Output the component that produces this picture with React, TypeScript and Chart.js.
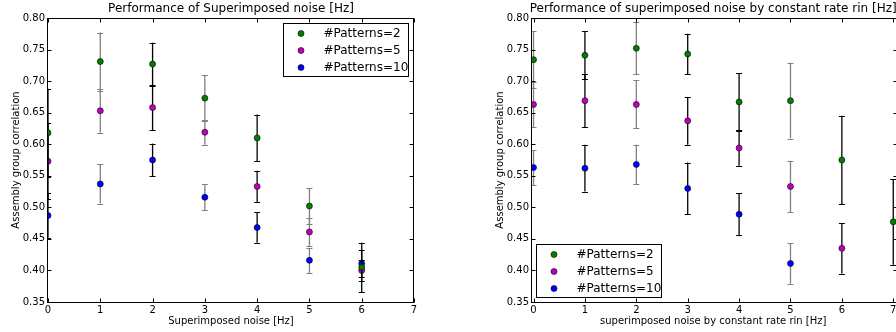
import React, { useEffect, useRef } from "react";
import { Chart, registerables } from "chart.js";

Chart.register(...registerables);

const FONT = "'DejaVu Sans', 'Liberation Sans', sans-serif";

const seriesLabels = ["#Patterns=2", "#Patterns=5", "#Patterns=10"];
const seriesColors = ["#008000", "#bf00bf", "#0000ff"];

const yTicks = [0.35, 0.4, 0.45, 0.5, 0.55, 0.6, 0.65, 0.7, 0.75, 0.8];

// Left panel: Superimposed noise [Hz]
const leftX = [0, 1, 2, 3, 4, 5, 6];
const leftXTicks = [0, 1, 2, 3, 4, 5, 6, 7];
const leftP2 = [0.618, 0.731, 0.727, 0.673, 0.61, 0.502, 0.405];
const leftP2Err = [0.07, 0.046, 0.034, 0.036, 0.037, 0.028, 0.039];
const leftP5 = [0.573, 0.653, 0.658, 0.619, 0.533, 0.461, 0.4];
const leftP5Err = [0.06, 0.035, 0.036, 0.02, 0.025, 0.022, 0.017];
const leftP10 = [0.487, 0.537, 0.575, 0.516, 0.468, 0.416, 0.411];
const leftP10Err = [0.035, 0.031, 0.026, 0.021, 0.024, 0.02, 0.021];

// Right panel: superimposed noise by constant rate rin [Hz]
const rightX = [0, 1, 2, 3, 4, 5, 6, 7];
const rightXTicks = [0, 1, 2, 3, 4, 5, 6, 7];
const rightP2 = [0.734, 0.741, 0.752, 0.743, 0.667, 0.669, 0.575, 0.477];
const rightP2Err = [0.045, 0.038, 0.041, 0.032, 0.046, 0.06, 0.07, 0.068];
const rightP5 = [0.663, 0.669, 0.663, 0.637, 0.594, 0.533, 0.435, null];
const rightP5Err = [0.036, 0.042, 0.038, 0.038, 0.028, 0.041, 0.04, null];
const rightP10 = [0.563, 0.562, 0.568, 0.53, 0.489, 0.411, null, null];
const rightP10Err = [0.028, 0.037, 0.031, 0.041, 0.033, 0.032, null, null];

const GREY = "#808080";
const BLACK = "#000000";
const leftErrShades = [BLACK, GREY, BLACK, GREY, BLACK, GREY, BLACK];
const rightErrShades = [GREY, BLACK, GREY, BLACK, BLACK, GREY, BLACK, BLACK];

const decorPlugin = {
  id: "decor",
  beforeDatasetDraw(chart: any, args: any) {
    const ds = chart.data.datasets[args.index];
    const xs: number[] = ds.xValues;
    const ys: (number | null)[] = ds.yValues;
    const errs: (number | null)[] = ds.errorBars;
    const shades: string[] = ds.errorShades;
    const xScale = chart.scales.x;
    const yScale = chart.scales.y;
    const area = chart.chartArea;
    const ctx = chart.ctx;
    ctx.save();
    ctx.beginPath();
    ctx.rect(area.left, area.top, area.right - area.left, area.bottom - area.top);
    ctx.clip();
    for (let i = 0; i < xs.length; i++) {
      const y = ys[i];
      const e = errs[i];
      if (y == null || e == null) continue;
      const px = xScale.getPixelForValue(xs[i]);
      const pt = yScale.getPixelForValue(y + e);
      const pb = yScale.getPixelForValue(y - e);
      ctx.strokeStyle = shades[i];
      ctx.lineWidth = 1.3;
      ctx.beginPath();
      ctx.moveTo(px, pt);
      ctx.lineTo(px, pb);
      ctx.stroke();
      ctx.lineWidth = 1;
      ctx.beginPath();
      ctx.moveTo(px - 3, Math.round(pt) + 0.5);
      ctx.lineTo(px + 3, Math.round(pt) + 0.5);
      ctx.moveTo(px - 3, Math.round(pb) + 0.5);
      ctx.lineTo(px + 3, Math.round(pb) + 0.5);
      ctx.stroke();
    }
    ctx.restore();
  },
  afterDraw(chart: any, _args: any, opts: any) {
    const ctx = chart.ctx;
    const area = chart.chartArea;
    const xScale = chart.scales.x;
    const yScale = chart.scales.y;
    const l = Math.round(area.left) - 0.5;
    const r = Math.round(area.right) - 0.5;
    const t = Math.round(area.top) + 0.5;
    const b = Math.round(area.bottom) + 0.5;
    ctx.save();
    ctx.strokeStyle = "#000";
    ctx.lineWidth = 1;
    ctx.strokeRect(l, t, r - l, b - t);
    // inward ticks
    ctx.beginPath();
    xScale.ticks.forEach((tk: any) => {
      const px = Math.round(xScale.getPixelForValue(tk.value)) + 0.5;
      ctx.moveTo(px, b);
      ctx.lineTo(px, b - 4);
      ctx.moveTo(px, t);
      ctx.lineTo(px, t + 4);
    });
    yScale.ticks.forEach((tk: any) => {
      const py = Math.round(yScale.getPixelForValue(tk.value)) + 0.5;
      ctx.moveTo(l, py);
      ctx.lineTo(l + 4, py);
      ctx.moveTo(r, py);
      ctx.lineTo(r - 4, py);
    });
    ctx.stroke();

    // texts
    ctx.fillStyle = "#000";
    ctx.textBaseline = "alphabetic";
    ctx.textAlign = "center";
    ctx.font = `12px ${FONT}`;
    ctx.fillText(opts.title, (area.left + area.right) / 2 + (opts.titleShift || 0), 12);
    ctx.font = `10px ${FONT}`;
    ctx.fillText(opts.xTitle, (area.left + area.right) / 2 + (opts.xTitleShift || 0), 324);
    ctx.save();
    ctx.translate(area.left - 29, (area.top + area.bottom) / 2);
    ctx.rotate(-Math.PI / 2);
    ctx.fillText(opts.yTitle, 0, 0);
    ctx.restore();

    // legend
    const bw = 125;
    const bh = 53;
    let bx: number;
    let by: number;
    if (opts.legendPos === "tr") {
      bx = Math.round(area.right - 6 - bw) + 0.5;
      by = Math.round(area.top + 5) + 0.5;
    } else {
      bx = Math.round(area.left + 4) + 0.5;
      by = Math.round(area.bottom - 5 - bh) + 0.5;
    }
    ctx.fillStyle = "#fff";
    ctx.fillRect(bx, by, bw, bh);
    ctx.strokeStyle = "#000";
    ctx.strokeRect(bx, by, bw, bh);
    ctx.font = `12px ${FONT}`;
    ctx.textAlign = "left";
    ctx.textBaseline = "middle";
    chart.data.datasets.forEach((ds: any, i: number) => {
      const cy = by + 10 + 17 * i;
      ctx.beginPath();
      ctx.arc(bx + 17.5, cy, 3, 0, Math.PI * 2);
      ctx.fillStyle = ds.pointBackgroundColor;
      ctx.fill();
      ctx.lineWidth = 0.6;
      ctx.strokeStyle = "#000";
      ctx.stroke();
      ctx.fillStyle = "#000";
      ctx.fillText(ds.label, bx + 40, cy + 0.5);
    });
    ctx.restore();
  },
};

function makeDataset(label: string, color: string, xs: number[], ys: (number | null)[], errs: (number | null)[], shades: string[]) {
  const data: { x: number; y: number }[] = [];
  xs.forEach((x, i) => {
    const y = ys[i];
    if (y != null) data.push({ x, y });
  });
  return {
    type: "scatter",
    label,
    data,
    xValues: xs,
    yValues: ys,
    errorBars: errs,
    errorShades: shades,
    showLine: false,
    pointRadius: 3,
    pointHoverRadius: 3,
    pointBackgroundColor: color,
    pointBorderColor: "#000",
    pointBorderWidth: 0.6,
    clip: 0,
  };
}

function buildConfig(p: any) {
  return {
    type: "scatter",
    data: { datasets: p.datasets },
    options: {
      responsive: false,
      animation: false,
      devicePixelRatio: 1,
      events: [],
      layout: { padding: { top: 18, right: p.padRight, left: 0, bottom: 0 } },
      plugins: {
        legend: { display: false },
        tooltip: { enabled: false },
        title: { display: false },
        decor: {
          title: p.title,
          xTitle: p.xTitle,
          yTitle: "Assembly group correlation",
          legendPos: p.legendPos,
          titleShift: p.titleShift,
          xTitleShift: p.xTitleShift,
        },
      },
      scales: {
        x: {
          type: "linear",
          min: p.xMin,
          max: p.xMax,
          afterFit: (s: any) => {
            s.height = 30;
          },
          afterBuildTicks: (s: any) => {
            s.ticks = p.xTicks.map((v: number) => ({ value: v }));
          },
          grid: { display: false, drawTicks: false },
          border: { display: false },
          ticks: {
            color: "#000",
            font: { size: 10, family: FONT },
            padding: 2,
            autoSkip: false,
            maxRotation: 0,
            callback: (v: any) => String(v),
          },
        },
        y: {
          type: "linear",
          min: 0.35,
          max: 0.8,
          afterFit: (s: any) => {
            s.width = 48;
          },
          afterBuildTicks: (s: any) => {
            s.ticks = yTicks.map((v: number) => ({ value: v }));
          },
          grid: { display: false, drawTicks: false },
          border: { display: false },
          ticks: {
            color: "#000",
            font: { size: 10, family: FONT },
            padding: 3,
            autoSkip: false,
            callback: (v: any) => Number(v).toFixed(2),
          },
        },
      },
    },
    plugins: [decorPlugin],
  };
}

function Panel({ left, width, params }: { left: number; width: number; params: any }) {
  const ref = useRef<HTMLCanvasElement | null>(null);
  useEffect(() => {
    if (!ref.current) return;
    const chart = new Chart(ref.current, buildConfig(params) as any);
    return () => chart.destroy();
  }, []);
  return (
    <canvas
      ref={ref}
      width={width}
      height={332}
      style={{ position: "absolute", left, top: 0, width, height: 332 }}
    />
  );
}

export default function App() {
  const leftParams = {
    title: "Performance of Superimposed noise [Hz]",
    xTitle: "Superimposed noise [Hz]",
    legendPos: "tr",
    xMin: 0,
    xMax: 7,
    xTicks: leftXTicks,
    padRight: 32,
    titleShift: 0,
    xTitleShift: 0,
    datasets: [
      makeDataset(seriesLabels[0], seriesColors[0], leftX, leftP2, leftP2Err, leftErrShades),
      makeDataset(seriesLabels[1], seriesColors[1], leftX, leftP5, leftP5Err, leftErrShades),
      makeDataset(seriesLabels[2], seriesColors[2], leftX, leftP10, leftP10Err, leftErrShades),
    ],
  };
  const rightParams = {
    title: "Performance of superimposed noise by constant rate rin [Hz]",
    xTitle: "superimposed noise by constant rate rin [Hz]",
    legendPos: "bl",
    xMin: -0.03,
    xMax: 7.1,
    xTicks: rightXTicks,
    padRight: 0,
    titleShift: -2,
    xTitleShift: -2,
    datasets: [
      makeDataset(seriesLabels[0], seriesColors[0], rightX, rightP2, rightP2Err, rightErrShades),
      makeDataset(seriesLabels[1], seriesColors[1], rightX, rightP5, rightP5Err, rightErrShades),
      makeDataset(seriesLabels[2], seriesColors[2], rightX, rightP10, rightP10Err, rightErrShades),
    ],
  };
  return (
    <div
      style={{
        position: "absolute",
        left: 0,
        top: 0,
        width: 896,
        height: 332,
        overflow: "hidden",
        background: "#fff",
      }}
    >
      <Panel left={0} width={446} params={leftParams} />
      <Panel left={484} width={418} params={rightParams} />
    </div>
  );
}
